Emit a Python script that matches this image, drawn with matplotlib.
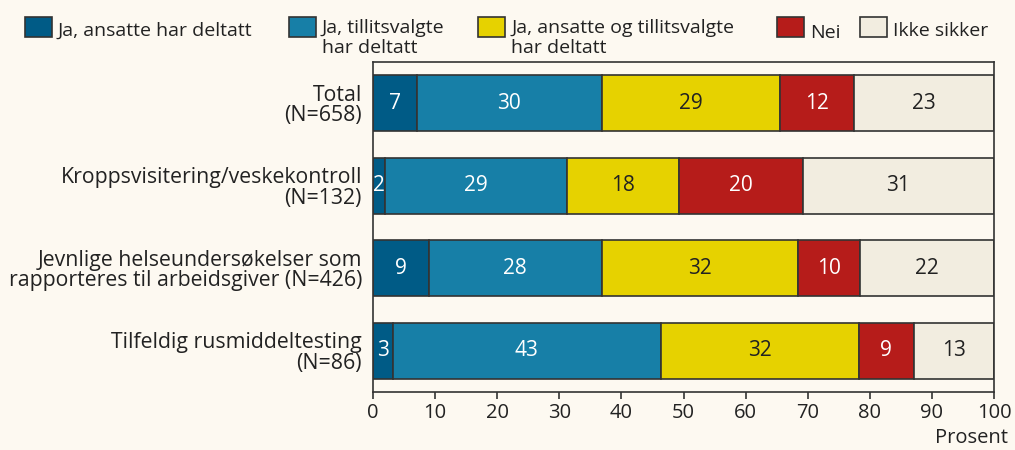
import numpy as np
import matplotlib
matplotlib.use('Agg')
import matplotlib.pyplot as plt
from matplotlib.patches import Rectangle

plt.rcParams['font.family'] = ['Open Sans', 'DejaVu Sans']

categories = [
    'Total\n(N=658)',
    'Kroppsvisitering/veskekontroll\n(N=132)',
    'Jevnlige helseundersøkelser som\nrapporteres til arbeidsgiver (N=426)',
    'Tilfeldig rusmiddeltesting\n(N=86)',
]
series_names = [
    'Ja, ansatte har deltatt',
    'Ja, tillitsvalgte\nhar deltatt',
    'Ja, ansatte og tillitsvalgte\nhar deltatt',
    'Nei',
    'Ikke sikker',
]
ansatte = [7.1, 1.9, 9.0, 3.2]
tillitsvalgte = [29.7, 29.4, 27.8, 43.1]
begge = [28.7, 17.9, 31.7, 31.9]
nei = [11.9, 20.0, 9.9, 8.9]
ikke_sikker = [22.6, 30.8, 21.6, 12.9]
labels = [
    [7, 2, 9, 3],
    [30, 29, 28, 43],
    [29, 18, 32, 32],
    [12, 20, 10, 9],
    [23, 31, 22, 13],
]

colors = ['#005b86', '#177fa7', '#e6d200', '#b61c1a', '#f2ede0']
text_colors = ['white', 'white', '#222222', 'white', '#222222']
bg = '#fdf9f1'
edge = '#333333'
W, H = 1015, 450

fig = plt.figure(figsize=(W / 100, H / 100), dpi=100, facecolor=bg)
ax = fig.add_axes([373 / W, 1 - 392 / H, 621 / W, 330 / H], facecolor=bg)

y = np.arange(len(categories))
left = np.zeros(len(categories))
for i, vals in enumerate([ansatte, tillitsvalgte, begge, nei, ikke_sikker]):
    vals = np.array(vals)
    ax.barh(y, vals, left=left, height=0.68, color=colors[i],
            edgecolor=edge, linewidth=1.2)
    for j in range(len(categories)):
        ax.text(left[j] + vals[j] / 2, y[j], str(labels[i][j]),
                ha='center', va='center', fontsize=15, color=text_colors[i])
    left += vals

ax.set_xlim(0, 100)
ax.set_ylim(len(categories) - 0.5, -0.5)
ax.set_yticks(y)
ax.set_yticklabels(categories, fontsize=15.3, linespacing=0.97, color='#222222')
ax.tick_params(axis='y', length=0, pad=8)
ax.set_xticks(np.arange(0, 101, 10))
ax.tick_params(axis='x', labelsize=14.5, length=5, width=1.2, colors='#333333',
               labelcolor='#222222', pad=3)
for s in ax.spines.values():
    s.set_color('#333333')
    s.set_linewidth(1.2)
fig.text(1008 / W, 1 - 438 / H, 'Prosent', ha='right', va='center',
         fontsize=14.5, color='#222222')

# legend drawn by hand so single-line labels sit on the first text line
box_x = [25, 289, 478, 777, 860]
baselines = [36, 33, 33, 38, 36]
for c, name, bx, bl in zip(colors, series_names, box_x, baselines):
    fig.add_artist(Rectangle((bx / W, 1 - 37 / H), 27 / W, 20 / H,
                             transform=fig.transFigure, facecolor=c,
                             edgecolor=edge, linewidth=1.2))
    lines = name.split('\n')
    for k, line in enumerate(lines):
        fig.text((bx + 33) / W, 1 - (bl + 20 * k) / H, line, ha='left',
                 va='baseline', fontsize=14, color='#222222')

fig.savefig('out.png', dpi=100, facecolor=bg)
